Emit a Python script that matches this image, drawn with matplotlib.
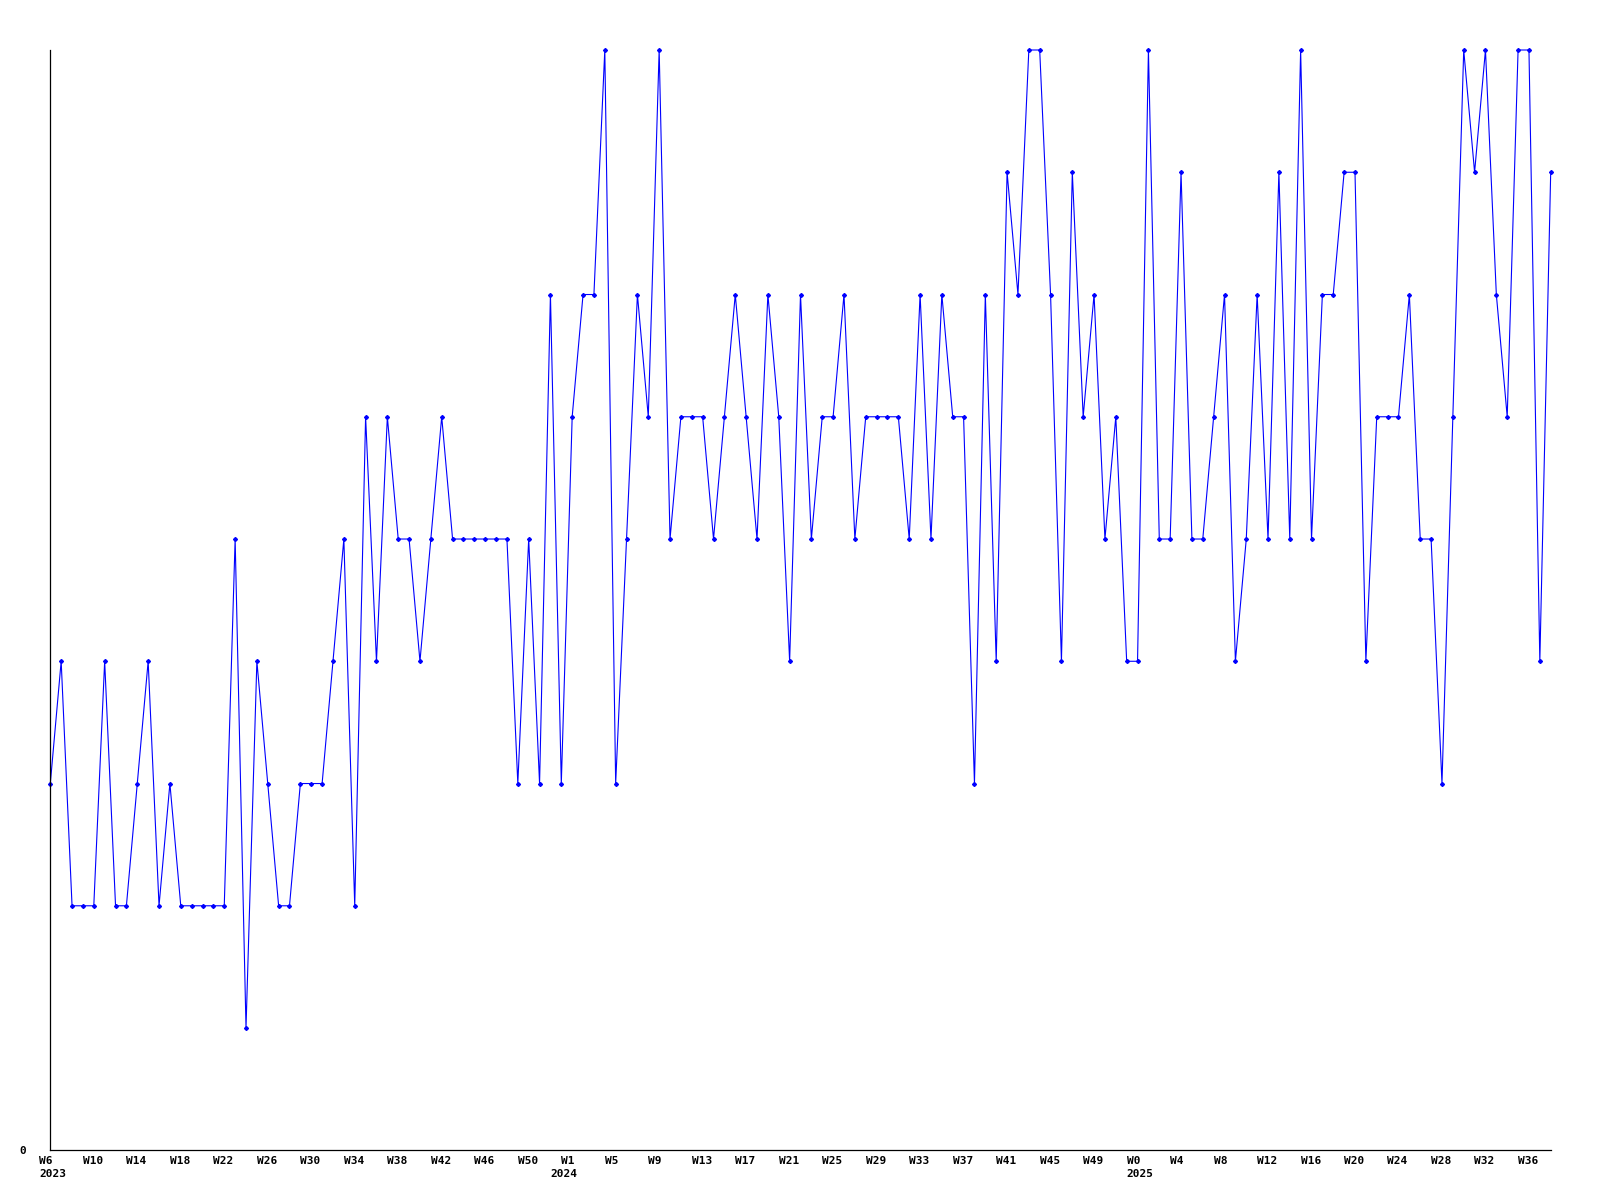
import matplotlib
matplotlib.use("Agg")
import matplotlib.pyplot as plt
from matplotlib.transforms import ScaledTranslation, blended_transform_factory

# Weekly values, starting at 2023 W6
values = [
    3, 4, 2, 2, 2, 4, 2, 2, 3, 4, 2, 3, 2, 2, 2, 2, 2, 5, 1, 4,
    3, 2, 2, 3, 3, 3, 4, 5, 2, 6, 4, 6, 5, 5, 4, 5, 6, 5, 5, 5,
    5, 5, 5, 3, 5, 3, 7, 3, 6, 7, 7, 9, 3, 5, 7, 6, 9, 5, 6, 6,
    6, 5, 6, 7, 6, 5, 7, 6, 4, 7, 5, 6, 6, 7, 5, 6, 6, 6, 6, 5,
    7, 5, 7, 6, 6, 3, 7, 4, 8, 7, 9, 9, 7, 4, 8, 6, 7, 5, 6, 4,
    4, 9, 5, 5, 8, 5, 5, 6, 7, 4, 5, 7, 5, 8, 5, 9, 5, 7, 7, 8,
    8, 4, 6, 6, 6, 7, 5, 5, 3, 6, 9, 8, 9, 7, 6, 9, 9, 4, 8,
]

week_labels = [
    "W6", "W10", "W14", "W18", "W22", "W26", "W30", "W34", "W38", "W42", "W46", "W50",
    "W1", "W5", "W9", "W13", "W17", "W21", "W25", "W29", "W33", "W37", "W41", "W45", "W49",
    "W0", "W4", "W8", "W12", "W16", "W20", "W24", "W28", "W32", "W36",
]
tick_step = 4
years = ["2023", "2024", "2025"]
year_tick_index = [0, 12, 25]          # which week label each year sits under
year_offset_px = [-11, -22, -11]

DPI = 100
fig = plt.figure(figsize=(16, 12), dpi=DPI)
ax = fig.add_axes([50.3 / 1600, 1 - 1150.3 / 1200, (1550.7 - 50.3) / 1600, (1150.3 - 50) / 1200])

x = list(range(len(values)))
ax.plot(x, values, color="#0000ff", linewidth=0.8, marker="D", markersize=2.0,
        markerfacecolor="#0000ff", markeredgecolor="#0000ff", clip_on=False)

ax.set_xlim(0, len(values) - 1)
ax.set_ylim(0, 9)

for s in ["top", "right"]:
    ax.spines[s].set_visible(False)
for s in ["left", "bottom"]:
    ax.spines[s].set_color("black")
    ax.spines[s].set_linewidth(0.9)

font = dict(family="DejaVu Sans Mono", weight="bold", size=8)

ticks = [i * tick_step for i in range(len(week_labels))]
ax.set_xticks(ticks)
ax.set_xticklabels(week_labels, ha="left", **font)
ax.tick_params(axis="x", length=0, pad=4)
off = ScaledTranslation(-11 / DPI, 0, fig.dpi_scale_trans)
for lab in ax.get_xticklabels():
    lab.set_transform(lab.get_transform() + off)

ax.set_yticks([0])
ax.set_yticklabels(["0"], **font)
ax.tick_params(axis="y", length=0, pad=17.5)

trans = blended_transform_factory(ax.transData, ax.transAxes)
for yr, ti, dx in zip(years, year_tick_index, year_offset_px):
    t = trans + ScaledTranslation(dx / DPI, -19 / DPI, fig.dpi_scale_trans)
    ax.text(ticks[ti], 0, yr, transform=t, ha="left", va="top", **font)

fig.savefig("out.png", dpi=DPI)
